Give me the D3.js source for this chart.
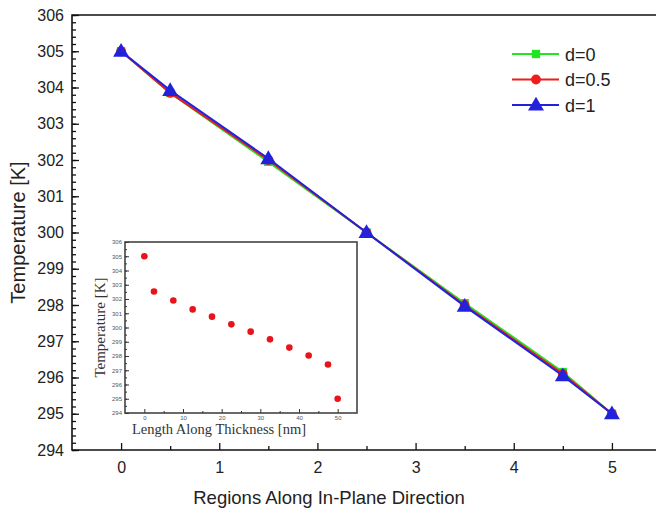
<!DOCTYPE html>
<html>
<head>
<meta charset="utf-8">
<script src="https://cdn.jsdelivr.net/npm/d3@7"></script>
<style>
  html, body { margin: 0; padding: 0; background: #fff; }
  svg { display: block; }
</style>
</head>
<body>
<div id="chart"></div>
<script>
// ---- data ----
const regions = [0, 0.5, 1.5, 2.5, 3.5, 4.5, 5];
const tempD0  = [305, 303.85, 301.95, 300, 298.05, 296.15, 295];
const tempD05 = [305, 303.85, 302.0, 300, 298.0, 296.1, 295];
const tempD1  = [305, 303.92, 302.04, 300, 297.97, 296.05, 295];
const seriesNames = ['d=0', 'd=0.5', 'd=1'];

const thickness = [0, 2.5, 7.5, 12.5, 17.5, 22.5, 27.5, 32.5, 37.5, 42.5, 47.5, 50];
const thickTemp = [305, 302.53, 301.9, 301.27, 300.76, 300.22, 299.71, 299.17, 298.59, 298.03, 297.4, 295];

const W = 656, H = 511;
const FONT = "Arial, 'Liberation Sans', sans-serif";
const SERIF = "'Times New Roman', 'Liberation Serif', serif";

const svg = d3.select('#chart').append('svg')
  .attr('width', W).attr('height', H);

// ---- main plot ----
const x = d3.scaleLinear().domain([-0.5, 5.5]).range([72, 661]);
const y = d3.scaleLinear().domain([294, 306]).range([450, 15]);

const g = svg.append('g');

// minor ticks (inward)
g.append('g').attr('transform', `translate(${x(-0.5)},0)`)
  .call(d3.axisRight(y).tickValues(d3.range(294, 306.01, 0.2)).tickSize(4).tickFormat(''))
  .call(a => a.select('.domain').remove());
g.append('g').attr('transform', `translate(0,${y(294)})`)
  .call(d3.axisTop(x).tickValues(d3.range(0.5, 5.1, 1)).tickSize(4).tickFormat(''))
  .call(a => a.select('.domain').remove());

// major ticks
g.append('g').attr('transform', `translate(${x(-0.5)},0)`)
  .call(d3.axisRight(y).tickValues(d3.range(294, 307, 1)).tickSize(7).tickFormat(''))
  .call(a => a.select('.domain').remove());
g.append('g').attr('transform', `translate(0,${y(294)})`)
  .call(d3.axisTop(x).tickValues(d3.range(0, 6, 1)).tickSize(7).tickFormat(''))
  .call(a => a.select('.domain').remove());
g.selectAll('.tick line').attr('stroke', '#111').attr('stroke-width', 1.3);

// tick labels
g.append('g').attr('transform', `translate(${x(-0.5)},0)`)
  .call(d3.axisLeft(y).tickValues(d3.range(294, 307, 1)).tickSize(0).tickPadding(8).tickFormat(d3.format('d')))
  .call(a => a.select('.domain').remove())
  .selectAll('text')
  .attr('fill', '#222').style('font-size', '16px').style('font-family', FONT);
g.append('g').attr('transform', `translate(0,${y(294)})`)
  .call(d3.axisBottom(x).tickValues(d3.range(0, 6, 1)).tickSize(0).tickPadding(12).tickFormat(d3.format('d')))
  .call(a => a.select('.domain').remove())
  .selectAll('text')
  .attr('fill', '#222').style('font-size', '16px').style('font-family', FONT);

// spines
g.append('path')
  .attr('d', `M${x(5.5) + 5},${y(306)} H${x(-0.5)} V${y(294)} H${x(5.5) + 5}`)
  .attr('fill', 'none').attr('stroke', '#111').attr('stroke-width', 1.6);

// axis titles
svg.append('text')
  .attr('transform', `translate(25,${(y(294) + y(306)) / 2}) rotate(-90)`)
  .attr('text-anchor', 'middle')
  .attr('fill', '#222').style('font-size', '20px').style('font-family', FONT)
  .text('Temperature [K]');
svg.append('text')
  .attr('x', 329).attr('y', 504)
  .attr('text-anchor', 'middle')
  .attr('fill', '#222').style('font-size', '18.5px').style('font-family', FONT)
  .text('Regions Along In-Plane Direction');

// ---- inset ----
const ix = d3.scaleLinear().domain([-5, 55]).range([125, 357]);
const iy = d3.scaleLinear().domain([294, 306]).range([413, 242]);

const ins = svg.append('g');
ins.append('rect')
  .attr('x', ix(-5)).attr('y', iy(306))
  .attr('width', ix(55) - ix(-5)).attr('height', iy(294) - iy(306))
  .attr('fill', '#fff').attr('stroke', '#444').attr('stroke-width', 1.6);

ins.append('g').attr('transform', `translate(${ix(-5)},0)`)
  .call(d3.axisRight(iy).tickValues(d3.range(294, 306.01, 0.5)).tickSize(2).tickFormat(''))
  .call(a => a.select('.domain').remove());
ins.append('g').attr('transform', `translate(${ix(-5)},0)`)
  .call(d3.axisRight(iy).tickValues(d3.range(294, 307, 1)).tickSize(4).tickFormat(''))
  .call(a => a.select('.domain').remove());
ins.append('g').attr('transform', `translate(0,${iy(294)})`)
  .call(d3.axisTop(ix).tickValues(d3.range(5, 51, 10)).tickSize(2).tickFormat(''))
  .call(a => a.select('.domain').remove());
ins.append('g').attr('transform', `translate(0,${iy(294)})`)
  .call(d3.axisTop(ix).tickValues(d3.range(0, 51, 10)).tickSize(4).tickFormat(''))
  .call(a => a.select('.domain').remove());
ins.selectAll('.tick line').attr('stroke', '#333').attr('stroke-width', 1);

ins.append('g').attr('transform', `translate(${ix(-5)},0)`)
  .call(d3.axisLeft(iy).tickValues(d3.range(294, 307, 1)).tickSize(0).tickPadding(3).tickFormat(d3.format('d')))
  .call(a => a.select('.domain').remove())
  .selectAll('text')
  .attr('fill', '#555').style('font-size', '6px').style('font-family', FONT);
ins.append('g').attr('transform', `translate(0,${iy(294)})`)
  .call(d3.axisBottom(ix).tickValues(d3.range(0, 51, 10)).tickSize(0).tickPadding(3).tickFormat(d3.format('d')))
  .call(a => a.select('.domain').remove())
  .selectAll('text')
  .attr('fill', '#555').style('font-size', '6px').style('font-family', FONT);

ins.append('text')
  .attr('transform', `translate(105,${(iy(294) + iy(306)) / 2}) rotate(-90)`)
  .attr('text-anchor', 'middle')
  .attr('fill', '#333').style('font-size', '15px').style('font-family', SERIF)
  .text('Temperature  [K]');
ins.append('text')
  .attr('x', 219).attr('y', 434)
  .attr('text-anchor', 'middle')
  .attr('fill', '#333').style('font-size', '14.5px').style('font-family', SERIF)
  .text('Length Along Thickness  [nm]');

ins.selectAll('circle.ipt')
  .data(thickness.map((t, i) => [t, thickTemp[i]]))
  .join('circle')
  .attr('class', 'ipt')
  .attr('cx', d => ix(d[0])).attr('cy', d => iy(d[1]))
  .attr('r', 3.3)
  .attr('fill', '#e8141a');

// ---- series ----
const colors = ['#22e622', '#ee1c1c', '#2222dd'];
const symbols = [d3.symbolSquare, d3.symbolCircle, d3.symbolTriangle];
const symSizes = [70, 75, 110];
const series = [tempD0, tempD05, tempD1];

const line = d3.line().x(d => x(d[0])).y(d => y(d[1]));

series.forEach((vals, k) => {
  const pts = regions.map((r, i) => [r, vals[i]]);
  g.append('path')
    .datum(pts)
    .attr('d', line)
    .attr('fill', 'none')
    .attr('stroke', colors[k])
    .attr('stroke-width', 2);
  g.selectAll(null)
    .data(pts)
    .join('path')
    .attr('transform', d => `translate(${x(d[0])},${y(d[1]) + (k === 2 ? 1 : 0)})`)
    .attr('d', d3.symbol().type(symbols[k]).size(symSizes[k]))
    .attr('fill', colors[k]);
});

// ---- legend ----
const legend = svg.append('g').attr('transform', 'translate(512,54)');
seriesNames.forEach((name, k) => {
  const row = legend.append('g').attr('transform', `translate(0,${k * 25.5})`);
  row.append('line')
    .attr('x1', 0).attr('x2', 47).attr('y1', 0).attr('y2', 0)
    .attr('stroke', colors[k]).attr('stroke-width', 2);
  row.append('path')
    .attr('transform', `translate(24,${k === 2 ? 1 : 0})`)
    .attr('d', d3.symbol().type(symbols[k]).size(symSizes[k]))
    .attr('fill', colors[k]);
  row.append('text')
    .attr('x', 53).attr('y', 6.5)
    .attr('fill', '#222').style('font-size', '18px').style('font-family', FONT)
    .text(name);
});
</script>
</body>
</html>
